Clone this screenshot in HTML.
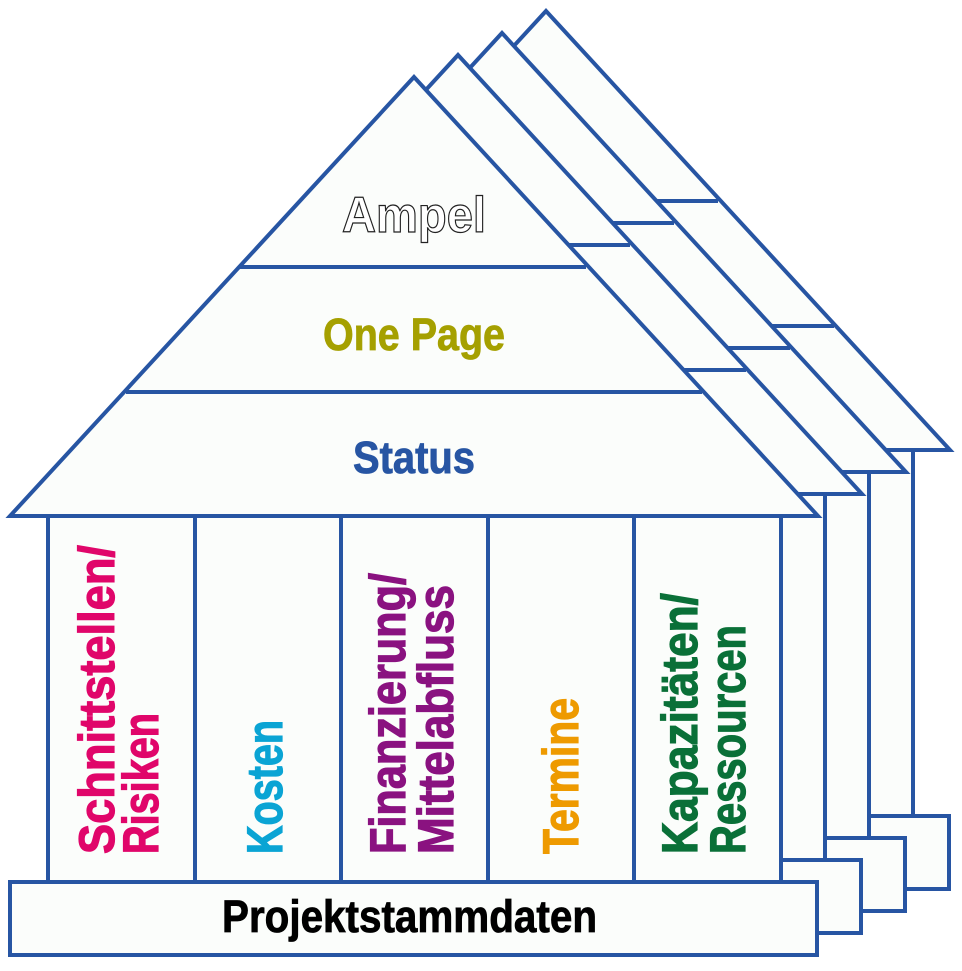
<!DOCTYPE html>
<html><head><meta charset="utf-8"><style>html,body{margin:0;padding:0;background:#fff}svg{display:block}</style></head>
<body>
<svg width="962" height="971" viewBox="0 0 962 971" xmlns="http://www.w3.org/2000/svg">
<defs>
<g id="h" fill="#fbfdfb" stroke="#2755a3" stroke-width="4" stroke-linejoin="miter">
  <rect x="48" y="516" width="733" height="366"/>
  <line x1="195" y1="516" x2="195" y2="882"/>
  <line x1="341" y1="516" x2="341" y2="882"/>
  <line x1="488" y1="516" x2="488" y2="882"/>
  <line x1="634" y1="516" x2="634" y2="882"/>
  <polygon points="414,77 818,516 10,516"/>
  <line x1="240" y1="267" x2="586" y2="267"/>
  <line x1="126" y1="392" x2="702" y2="392"/>
  <rect x="10" y="882" width="807" height="73"/>
</g>
</defs>
<use href="#h" transform="translate(132,-66)"/>
<use href="#h" transform="translate(88,-44)"/>
<use href="#h" transform="translate(44,-22)"/>
<use href="#h"/>
<g font-family="'Liberation Sans Narrow','Liberation Sans',sans-serif" font-weight="bold">
<text x="342" y="232" font-size="50" textLength="144" lengthAdjust="spacingAndGlyphs" fill="#fff" stroke="#222" stroke-width="1.2">Ampel</text>
<text x="323" y="350" font-size="45" textLength="182" lengthAdjust="spacingAndGlyphs" fill="#a5a000" stroke="#a5a000" stroke-width="0.8">One Page</text>
<text x="353" y="473" font-size="45" textLength="122" lengthAdjust="spacingAndGlyphs" fill="#2755a3" stroke="#2755a3" stroke-width="0.8">Status</text>
<text x="222" y="932" font-size="45" textLength="375" lengthAdjust="spacingAndGlyphs" fill="#000" stroke="#000" stroke-width="0.8">Projektstammdaten</text>
<g font-size="50" stroke-width="1.2">
<text transform="translate(114,854) rotate(-90)" textLength="309" lengthAdjust="spacingAndGlyphs" fill="#e0066a" stroke="#e0066a">Schnittstellen/</text>
<text transform="translate(158,854) rotate(-90)" textLength="141" lengthAdjust="spacingAndGlyphs" fill="#e0066a" stroke="#e0066a">Risiken</text>
<text transform="translate(282,854) rotate(-90)" textLength="134" lengthAdjust="spacingAndGlyphs" fill="#0aa4d4" stroke="#0aa4d4">Kosten</text>
<text transform="translate(405,854) rotate(-90)" textLength="281" lengthAdjust="spacingAndGlyphs" fill="#8a1280" stroke="#8a1280">Finanzierung/</text>
<text transform="translate(453,854) rotate(-90)" textLength="269" lengthAdjust="spacingAndGlyphs" fill="#8a1280" stroke="#8a1280">Mittelabfluss</text>
<text transform="translate(578,854) rotate(-90)" textLength="156" lengthAdjust="spacingAndGlyphs" fill="#ee9a00" stroke="#ee9a00">Termine</text>
<text transform="translate(697,854) rotate(-90)" textLength="261" lengthAdjust="spacingAndGlyphs" fill="#0a7038" stroke="#0a7038">Kapazitäten/</text>
<text transform="translate(745,854) rotate(-90)" textLength="229" lengthAdjust="spacingAndGlyphs" fill="#0a7038" stroke="#0a7038">Ressourcen</text>
</g>
</g>
</svg>
</body></html>
